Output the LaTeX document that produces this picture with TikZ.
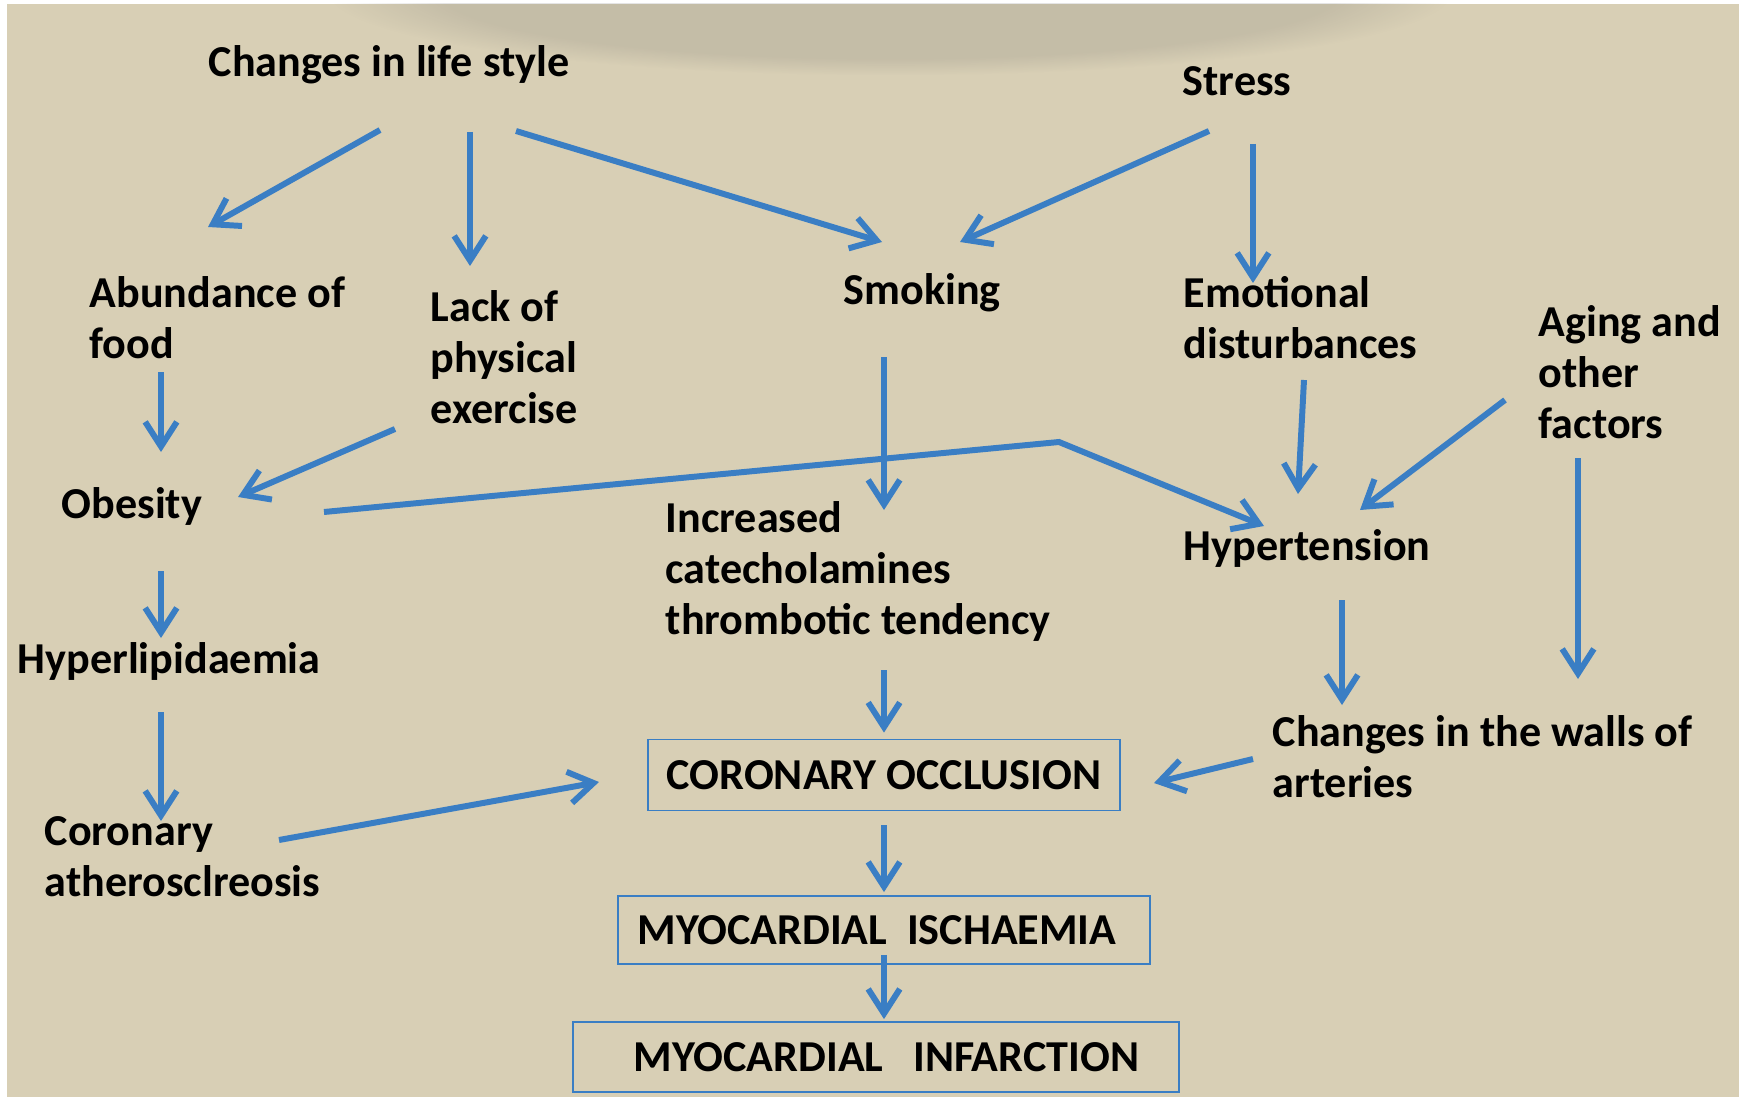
\documentclass[tikz,border=0pt]{standalone}
\usepackage{fontspec}
\setmainfont{Carlito}
\usepackage{tikz}
\usetikzlibrary{arrows.meta,fadings}

\definecolor{tela}{RGB}{216,207,181}
\definecolor{freccia}{RGB}{58,126,196}

\begin{document}
\begin{tikzpicture}[x=0.01cm,y=-0.01cm,
    >={Straight Barb[length=7pt,width=9pt]},
    txt/.style={anchor=west,align=left,inner sep=0pt,
      font=\bfseries\fontsize{12.55}{14.5}\selectfont},
    riq/.style={draw=freccia,line width=0.5pt,inner sep=0pt,
      font=\bfseries\fontsize{12.55}{14.5}\selectfont},
    link/.style={draw=freccia,line width=1.7pt}]
  % Sfondo
  \useasboundingbox (0,0) rectangle (1739,1097);
  \fill[white] (0,0) rectangle (1739,1097);
  \fill[tela] (7,4) rectangle (1739,1097);
  \begin{scope}
    \clip (7,4) rectangle (1739,1097);
    \fill[black!60,opacity=0.17,path fading=circle with fuzzy edge 20 percent] (330,-90) rectangle (1450,75);
  \end{scope}

  % Nodi
  \node[txt] (life)   at (208,65)  {Changes in life style};
  \node[txt] (stress) at (1182,81) {Stress};
  \node[txt] (food)   at (89,318)  {Abundance of\\food};
  \node[txt] (exer)   at (430,357) {Lack of\\physical\\exercise};
  \node[txt] (smok)   at (843,293) {Smoking};
  \node[txt] (emot)   at (1183,318) {Emotional\\disturbances};
  \node[txt] (aging)  at (1538,372) {Aging and\\other\\factors};
  \node[txt] (obes)   at (61,506)  {Obesity};
  \node[txt] (catec)  at (665,571) {Increased\\catecholamines\\thrombotic tendency};
  \node[txt] (hyper)  at (1183,548) {Hypertension};
  \node[txt] (lipid)  at (17,661)  {Hyperlipidaemia};
  \node[txt] (walls)  at (1272,757) {Changes in the walls of\\arteries};
  \node[txt] (ather)  at (44,857)  {Coronary\\atherosclreosis};

  % Riquadri
  \node[riq,minimum width=4.72cm,minimum height=0.71cm] (occl) at (884,775) {CORONARY OCCLUSION};
  \node[riq,minimum width=5.31cm,minimum height=0.68cm] (isch) at (884,930) {\hspace{-4pt}MYOCARDIAL\ \ ISCHAEMIA};
  \node[riq,minimum width=6.06cm,minimum height=0.70cm] (infa) at (876,1057) {\hspace{6pt}MYOCARDIAL\ \ \ INFARCTION};

  \coordinate (knee) at (1059,442);

  % Frecce
  \path[->,every edge/.append style={link}]
    ([shift={(172,65)}]life.west) edge ([shift={(119,-91)}]food.west)
    ([shift={(262,67)}]life.west) edge ([shift={(40,-91)}]exer.west)
    ([shift={(308,66)}]life.west) edge ([shift={(39,-51)}]smok.west)
    ([shift={(27,50)}]stress.west) edge ([shift={(117,-51)}]smok.west)
    ([shift={(71,63)}]stress.west) edge ([shift={(70,-35)}]emot.west)
    % colonna sinistra
    ([shift={(72,54)}]food.west) edge ([shift={(100,-54)}]obes.west)
    ([shift={(-35,72)}]exer.west) edge ([shift={(177,-9)}]obes.west)
    ([shift={(100,65)}]obes.west) edge ([shift={(144,-23)}]lipid.west)
    ([shift={(144,51)}]lipid.west) edge ([shift={(117,-36)}]ather.west)
    ([shift={(235,-17)}]ather.west) edge ([shift={(-48,7)}]occl.west)
    % centro
    ([shift={(41,64)}]smok.west) edge ([shift={(219,-61)}]catec.west)
    ([shift={(219,99)}]catec.west) edge ([shift={(0,-6)}]occl.north)
    ([shift={(0,14)}]occl.south) edge ([shift={(0,-3)}]isch.north)
    ([shift={(0,-10)}]isch.south) edge ([shift={(8,-2)}]infa.north)
    % colonna destra
    ([shift={(121,62)}]emot.west) edge ([shift={(115,-54)}]hyper.west)
    ([shift={(-33,28)}]aging.west) edge ([shift={(177,-38)}]hyper.west)
    ([shift={(40,86)}]aging.west) edge ([shift={(306,-78)}]walls.west)
    ([shift={(159,52)}]hyper.west) edge ([shift={(70,-52)}]walls.west)
    ([shift={(-19,2)}]walls.west) edge ([shift={(33,8)}]occl.east);
  % Obesity -> Hypertension
  \draw[link,->] ([shift={(263,6)}]obes.west) -- (knee) -- ([shift={(81,-22)}]hyper.west);
\end{tikzpicture}
\end{document}
